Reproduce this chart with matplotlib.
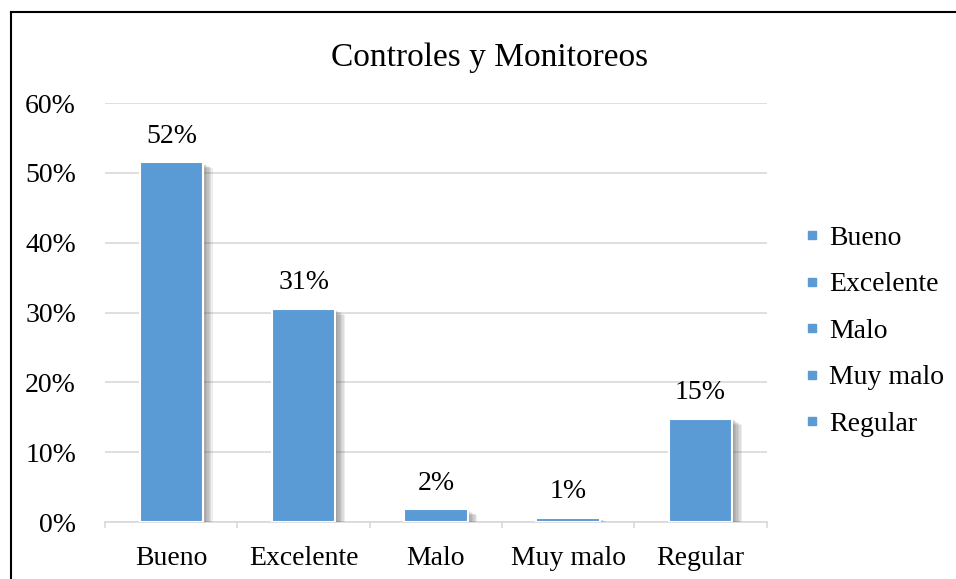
import numpy as np
import matplotlib.pyplot as plt
from matplotlib.lines import Line2D
from matplotlib import patheffects as pe

plt.rcParams['font.family'] = ['Liberation Serif', 'DejaVu Serif']

# datos
categorias = ['Bueno', 'Excelente', 'Malo', 'Muy malo', 'Regular']
valores = [0.515, 0.305, 0.018, 0.006, 0.148]
etiquetas = ['52%', '31%', '2%', '1%', '15%']

azul = '#5B9BD5'
gris = '#D9D9D9'

fig = plt.figure(figsize=(9.56, 5.79), dpi=100)
ax = fig.add_axes([0.110, 0.0984, 0.692, 0.7236])

x = np.arange(len(categorias))
# sombra difusa tipo Excel
sombra = [pe.SimplePatchShadow(offset=(k, -k * 0.6), shadow_rgbFace='#404040', alpha=0.09)
          for k in range(1, 8)]
sombra.append(pe.Normal())
barras = ax.bar(x, valores, width=0.48, color=azul, edgecolor='white', linewidth=1.5, zorder=3)
for b in barras:
    b.set_path_effects(sombra)

for xi, v, t in zip(x, valores, etiquetas):
    ax.annotate(t, (xi, v), xytext=(0, 10), textcoords='offset points',
                ha='center', va='bottom', fontsize=20)

ax.set_xlim(-0.5, 4.5)
ax.set_ylim(0, 0.6)
ax.set_yticks(np.arange(0, 0.61, 0.1))
ax.set_yticklabels([f'{int(round(t * 100))}%' for t in np.arange(0, 0.61, 0.1)])
ax.set_xticks(x)
ax.set_xticklabels(categorias)
ax.set_xticks(np.arange(-0.5, 5, 1), minor=True)
ax.tick_params(axis='y', length=0, pad=21, labelsize=20)
ax.tick_params(axis='x', which='major', length=0, pad=17, labelsize=20)
ax.tick_params(axis='x', which='minor', length=4.5, color=gris, width=1.2)
ax.grid(axis='y', color=gris, linewidth=1.2, zorder=0)
for s in ['top', 'right', 'left']:
    ax.spines[s].set_visible(False)
ax.spines['bottom'].set_color(gris)
ax.spines['bottom'].set_linewidth(1.2)

fig.text(0.512, 0.9, 'Controles y Monitoreos', ha='center', va='center', fontsize=24)

handles = [Line2D([], [], marker='s', linestyle='none', color=azul, markersize=6) for _ in categorias]
fig.legend(handles, categorias, loc='center left', bbox_to_anchor=(0.815, 0.428),
           frameon=False, fontsize=20, handlelength=0.6, handletextpad=0.3,
           labelspacing=0.76)

# marco
fig.add_artist(Line2D([0.0115, 0.0115], [0, 0.980], color='black', linewidth=1.5))
fig.add_artist(Line2D([0.0115, 1.0], [0.980, 0.980], color='black', linewidth=1.5))

fig.savefig('out.png', dpi=100)
